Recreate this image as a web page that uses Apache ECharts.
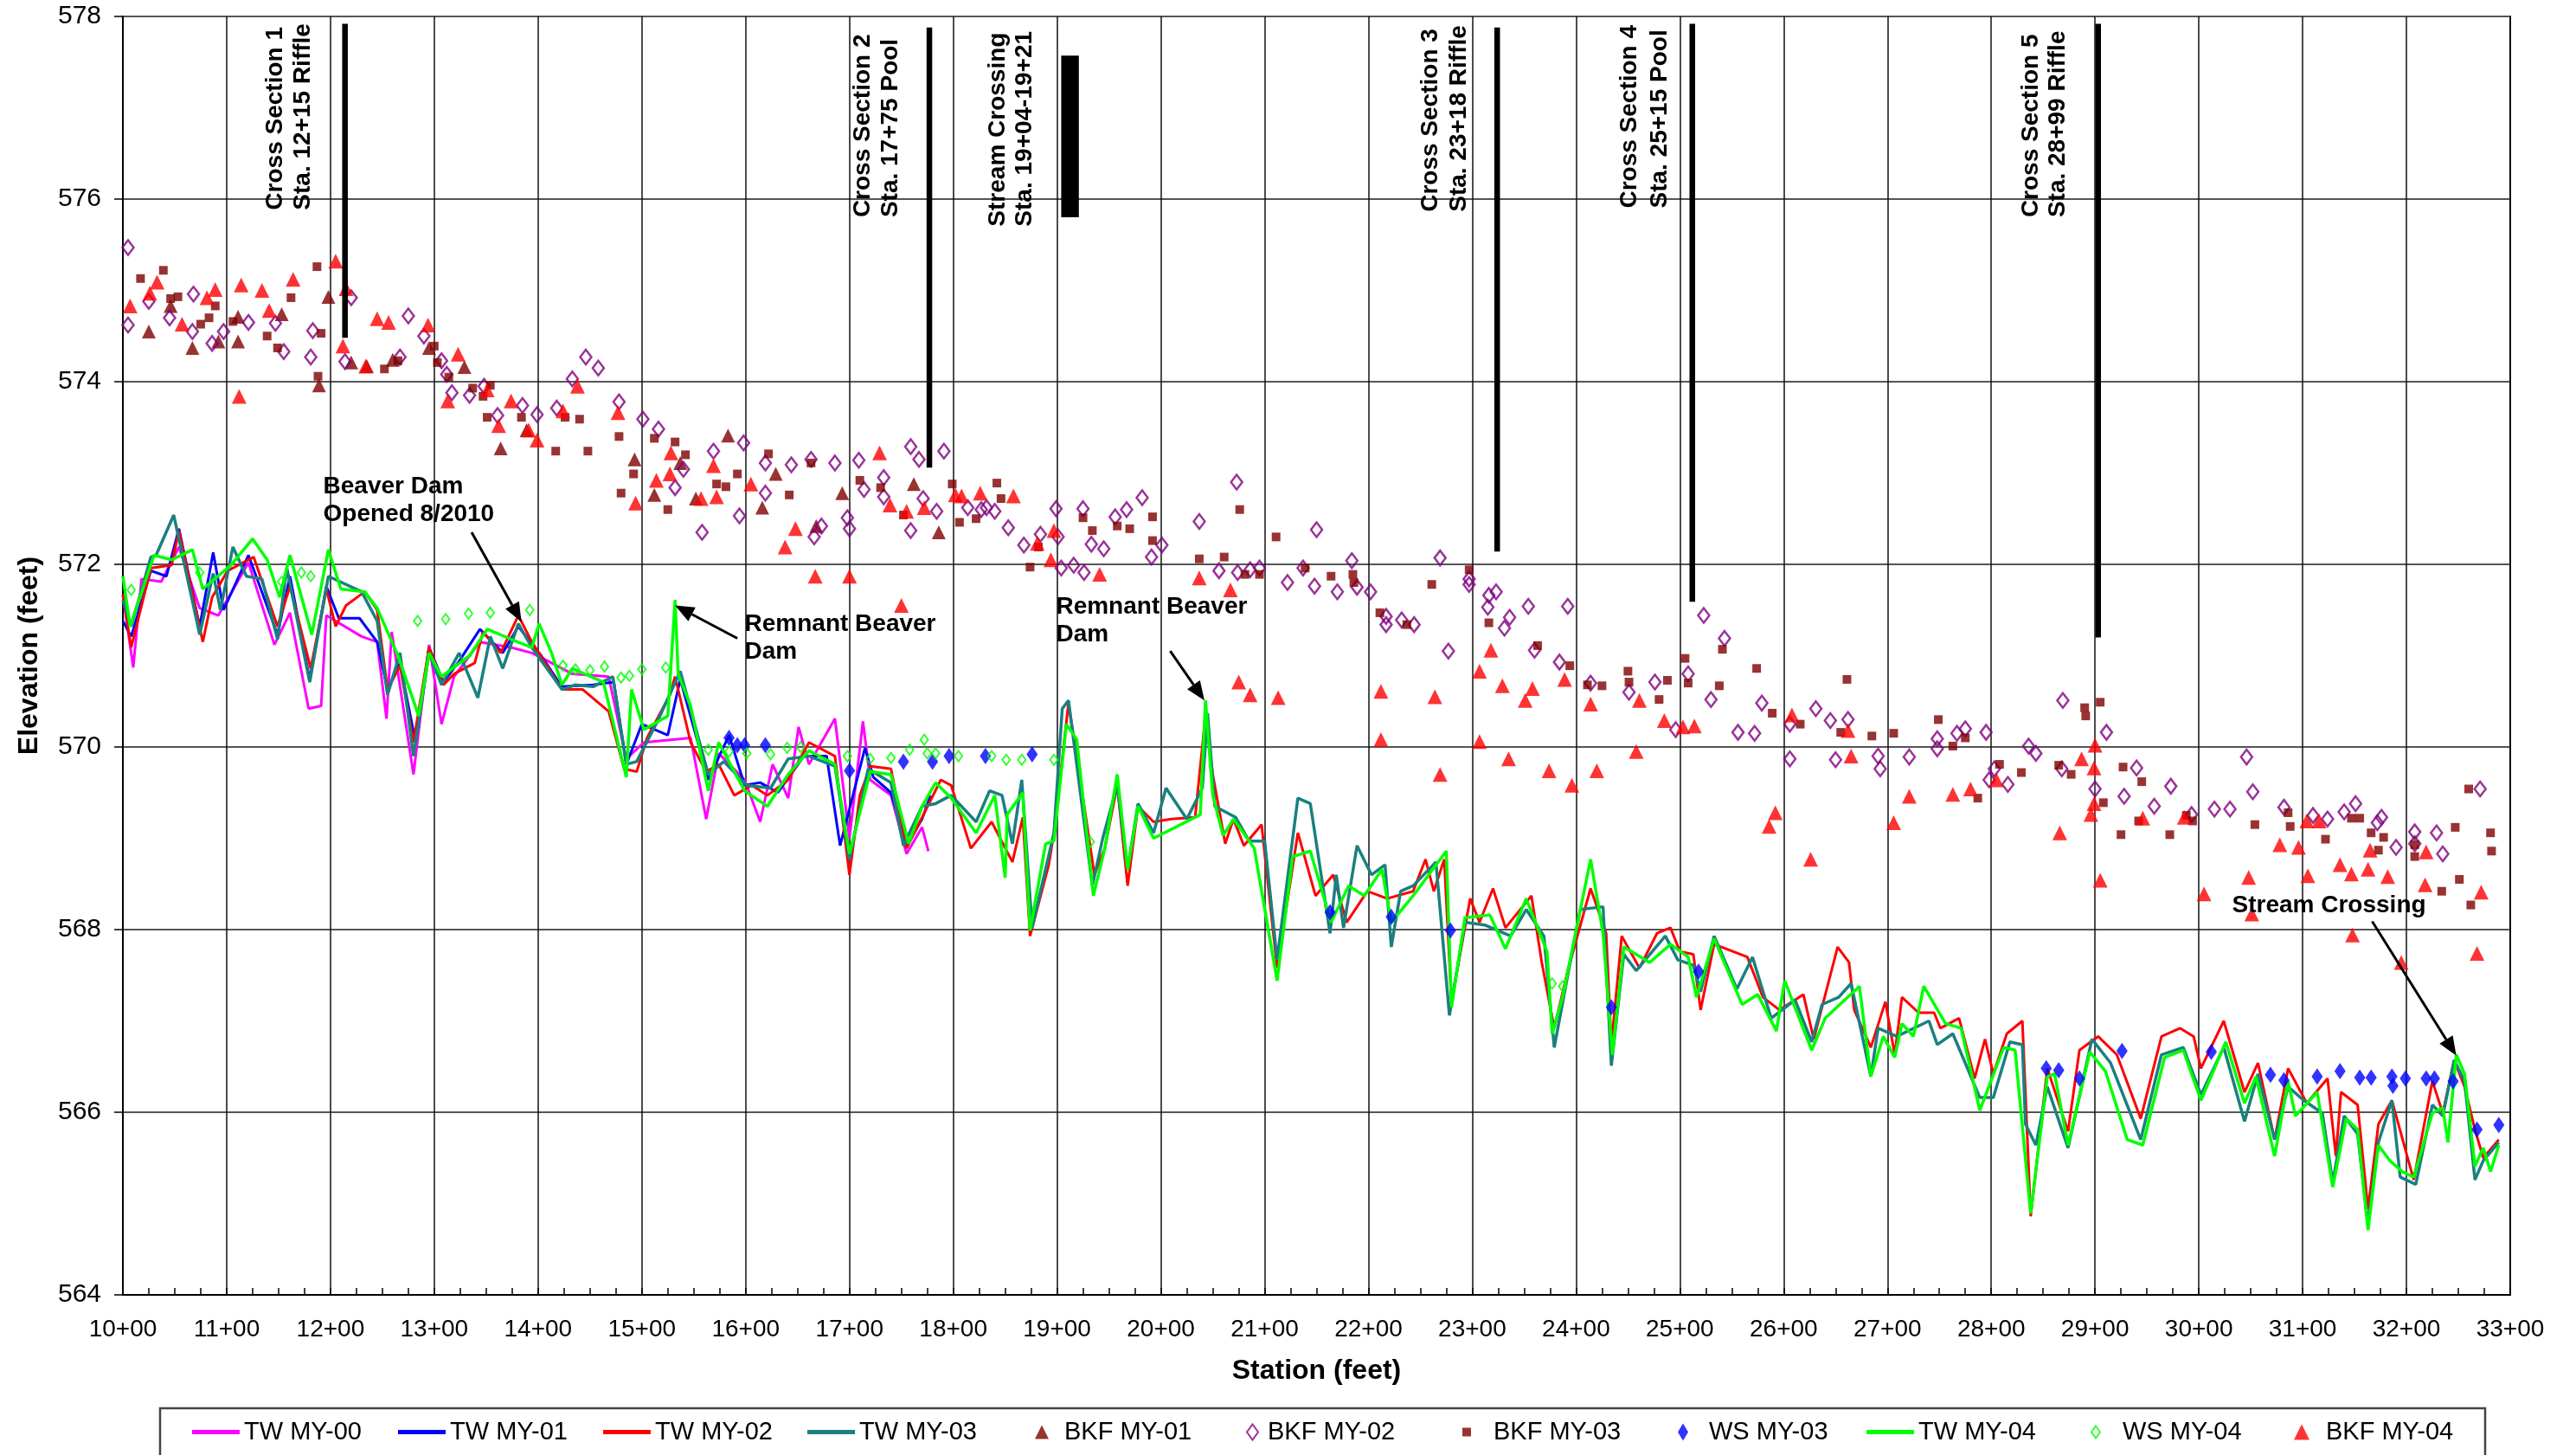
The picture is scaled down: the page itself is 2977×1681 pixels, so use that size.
<!DOCTYPE html>
<html><head><meta charset="utf-8">
<script src="https://cdn.jsdelivr.net/npm/echarts@6/dist/echarts.min.js"></script>
<style>html,body{margin:0;padding:0;background:#fff;}#c{width:2977px;height:1681px;}</style>
</head><body><div id="c"></div>
<script>
// ---------- DATA ----------
const xTickLabels = ['10+00','11+00','12+00','13+00','14+00','15+00','16+00','17+00','18+00','19+00','20+00','21+00','22+00','23+00','24+00','25+00','26+00','27+00','28+00','29+00','30+00','31+00','32+00','33+00'];
const yTickValues = [564,566,568,570,572,574,576,578];

const twMY00 = [[1000,571.67],[1010,570.87],[1018,571.84],[1037,571.81],[1054,572.19],[1074,571.52],[1092,571.44],[1121,572.02],[1146,571.12],[1161,571.47],[1179,570.42],[1191,570.45],[1196,571.44],[1230,571.21],[1245,571.15],[1254,570.31],[1259,571.26],[1280,569.70],[1295,571.12],[1307,570.25],[1319,570.77],[1344,571.15],[1374,571.09],[1394,571.03],[1413,570.92],[1433,570.80],[1468,570.77],[1485,569.87],[1502,570.05],[1547,570.10],[1562,569.21],[1574,569.93],[1599,569.64],[1614,569.18],[1626,569.81],[1641,569.44],[1651,570.22],[1661,569.81],[1686,570.31],[1700,569.00],[1713,570.28],[1720,569.64],[1740,569.47],[1755,568.83],[1770,569.12],[1776,568.86]];

const twMY01 = [[1000,571.38],[1008,571.21],[1027,571.93],[1042,571.87],[1054,572.39],[1074,571.32],[1087,572.13],[1097,571.50],[1121,572.10],[1149,571.23],[1161,571.87],[1180,570.74],[1196,571.76],[1208,571.41],[1228,571.41],[1245,571.15],[1255,570.63],[1267,570.92],[1282,570.05],[1295,571.09],[1309,570.71],[1324,570.94],[1344,571.29],[1366,571.03],[1381,571.32],[1403,571.00],[1423,570.66],[1453,570.68],[1473,570.71],[1485,569.81],[1500,570.25],[1525,570.13],[1537,570.74],[1564,569.64],[1584,570.13],[1599,569.58],[1614,569.61],[1631,569.50],[1656,569.90],[1678,569.90],[1691,568.92],[1715,569.99],[1723,569.67],[1740,569.50],[1755,568.92],[1770,569.21],[1778,569.47]];

const twMY02 = [[1000,571.67],[1008,571.09],[1027,571.96],[1047,571.99],[1054,572.37],[1077,571.15],[1086,571.64],[1101,571.93],[1126,572.08],[1149,571.32],[1161,571.76],[1181,570.86],[1196,571.73],[1205,571.32],[1215,571.55],[1233,571.70],[1245,571.50],[1255,570.63],[1267,570.89],[1280,570.05],[1295,571.09],[1309,570.68],[1319,570.80],[1339,570.92],[1347,571.26],[1364,571.03],[1381,571.44],[1394,571.15],[1423,570.63],[1443,570.63],[1468,570.39],[1483,569.76],[1495,569.73],[1505,570.10],[1527,570.57],[1532,570.77],[1547,570.05],[1562,569.73],[1574,569.81],[1589,569.47],[1606,569.58],[1621,569.47],[1641,569.64],[1661,570.05],[1686,569.90],[1700,568.60],[1710,569.47],[1720,569.79],[1740,569.76],[1755,568.89],[1770,569.23],
[1788,569.64],[1798,569.58],[1817,568.89],[1837,569.18],[1857,568.74],[1867,569.23],[1874,567.93],[1892,568.71],[1897,569.06],[1911,570.48],[1919,569.90],[1936,568.60],[1946,568.89],[1958,569.58],[1968,568.48],[1978,569.35],[1993,569.18],[2010,569.21],[2033,569.23],[2043,570.34],[2050,569.70],[2062,568.94],[2070,569.21],[2080,568.92],[2097,569.15],[2112,567.58],[2132,569.06],[2149,568.37],[2166,568.60],[2179,568.08],[2199,568.42],[2218,568.34],[2243,568.42],[2255,568.77],[2263,568.42],[2273,568.77],[2280,567.21],[2298,568.34],[2307,568.08],[2320,568.45],[2332,568.02],[2357,568.37],[2367,567.64],[2379,566.92],[2392,567.55],[2414,568.45],[2429,567.96],[2434,566.74],[2444,567.93],[2461,567.58],[2478,567.96],[2491,568.02],[2500,567.76],[2513,567.73],[2520,567.12],
[2533,567.84],[2565,567.70],[2580,567.26],[2596,567.12],[2619,567.29],[2629,566.80],[2652,567.81],[2663,567.64],[2668,567.12],[2684,566.71],[2698,567.21],[2707,566.63],[2714,567.26],[2730,567.09],[2745,567.09],[2751,566.92],[2769,567.03],[2784,566.37],[2794,566.80],[2802,566.42],[2815,566.86],[2830,567.00],[2838,564.86],[2854,566.48],[2874,565.79],[2885,566.68],[2903,566.83],[2921,566.63],[2944,565.93],[2964,566.83],[2982,566.92],[2995,566.83],[3002,566.48],[3024,567.00],[3044,566.22],[3057,566.54],[3073,565.70],[3086,566.48],[3104,566.10],[3124,566.37],[3132,565.52],[3137,566.22],[3153,566.08],[3163,564.94],[3173,565.87],[3186,566.13],[3207,565.26],[3225,566.34],[3235,565.99],[3246,566.57],[3256,566.28],[3266,565.81],[3274,565.50],[3289,565.70]];

const twMY03 = [[1000,571.61],[1008,571.32],[1027,572.08],[1032,572.10],[1049,572.54],[1074,571.23],[1087,571.90],[1094,571.50],[1106,572.19],[1119,571.87],[1134,571.84],[1149,571.18],[1158,571.96],[1180,570.71],[1198,571.87],[1230,571.70],[1245,571.38],[1255,570.57],[1267,571.03],[1280,569.90],[1295,571.03],[1307,570.68],[1324,571.03],[1342,570.54],[1354,571.21],[1366,570.86],[1381,571.35],[1394,571.09],[1423,570.63],[1436,570.68],[1453,570.66],[1472,570.77],[1485,569.81],[1495,569.84],[1515,570.28],[1537,570.83],[1564,569.70],[1579,569.84],[1601,569.58],[1624,569.55],[1641,569.87],[1661,569.90],[1686,569.79],[1700,568.77],[1718,569.76],[1740,569.61],[1752,568.92],[1770,569.35],
[1783,569.38],[1798,569.47],[1822,569.18],[1835,569.52],[1847,569.47],[1857,568.94],[1866,569.64],[1876,568.02],[1897,569.06],[1905,570.42],[1911,570.51],[1934,568.48],[1944,569.00],[1958,569.58],[1968,568.66],[1978,569.38],[1993,569.06],[2005,569.55],[2025,569.21],[2040,569.55],[2045,570.37],[2052,569.35],[2072,569.23],[2085,568.97],[2100,568.97],[2112,567.67],[2132,569.44],[2144,569.38],[2163,567.96],[2169,568.60],[2176,568.02],[2189,568.92],[2203,568.60],[2216,568.71],[2222,567.81],[2231,568.42],[2243,568.48],[2265,568.74],[2278,567.06],[2293,568.08],[2312,568.05],[2337,567.93],[2352,568.22],[2369,567.93],[2379,566.71],[2392,567.50],[2404,568.22],[2426,568.25],[2434,566.51],[2446,567.73],[2458,567.55],[2486,567.93],[2498,567.67],[2513,567.61],[2520,567.32],
[2533,567.93],[2555,567.35],[2570,567.70],[2588,567.03],[2611,567.23],[2627,566.77],[2637,567.18],[2653,567.26],[2665,567.41],[2684,566.39],[2691,566.92],[2709,566.83],[2740,567.00],[2748,566.74],[2763,566.86],[2789,566.16],[2802,566.16],[2818,566.77],[2830,566.74],[2833,565.87],[2843,565.64],[2854,566.28],[2874,565.61],[2897,566.80],[2915,566.54],[2944,565.70],[2964,566.63],[2985,566.71],[3002,566.19],[3024,566.71],[3044,565.90],[3057,566.42],[3073,565.70],[3086,566.28],[3101,566.13],[3119,565.99],[3129,565.23],[3140,565.96],[3153,565.76],[3163,564.77],[3173,565.67],[3186,566.13],[3194,565.29],[3209,565.21],[3225,566.08],[3235,565.96],[3246,566.57],[3256,566.34],[3266,565.26],[3274,565.47],[3289,565.67]];

const twMY04 = [[1000,571.87],[1007,571.32],[1030,572.10],[1047,572.05],[1067,572.16],[1077,571.73],[1104,571.99],[1125,572.28],[1139,572.05],[1151,571.64],[1161,572.10],[1182,571.23],[1198,572.16],[1210,571.73],[1233,571.70],[1245,571.52],[1265,571.00],[1285,570.34],[1295,571.03],[1307,570.77],[1334,571.00],[1351,571.29],[1374,571.18],[1394,571.09],[1401,571.35],[1413,571.03],[1423,570.68],[1433,570.86],[1463,570.71],[1485,569.67],[1490,570.63],[1502,570.19],[1525,570.34],[1532,571.61],[1535,570.80],[1547,570.45],[1564,569.52],[1574,570.05],[1599,569.52],[1621,569.35],[1641,569.70],[1661,569.96],[1686,569.81],[1700,568.83],[1720,569.73],[1740,569.70],[1757,568.94],[1770,569.35],
[1783,569.61],[1798,569.44],[1822,569.06],[1840,569.47],[1850,568.57],[1852,569.26],[1867,569.50],[1874,567.99],[1889,568.94],[1897,568.97],[1909,570.25],[1919,570.08],[1935,568.37],[1946,568.89],[1958,569.70],[1968,568.66],[1978,569.35],[1993,569.00],[2038,569.26],[2043,570.51],[2050,569.47],[2060,569.03],[2070,569.21],[2090,568.89],[2112,567.44],[2127,568.80],[2144,568.86],[2164,568.08],[2181,568.48],[2196,568.37],[2213,568.66],[2222,568.08],[2243,568.37],[2275,568.86],[2280,567.15],[2293,568.13],[2317,568.16],[2332,567.79],[2352,568.34],[2372,567.76],[2377,566.86],[2387,567.26],[2414,568.77],[2426,567.96],[2435,566.63],[2446,567.81],[2471,567.64],[2491,567.84],
[2508,567.70],[2516,567.26],[2533,567.90],[2560,567.18],[2575,567.29],[2593,566.89],[2601,567.44],[2627,566.68],[2640,567.03],[2673,567.38],[2684,566.39],[2696,566.83],[2707,566.60],[2714,566.97],[2725,566.83],[2735,567.38],[2756,566.97],[2771,566.92],[2789,566.02],[2812,566.71],[2823,566.68],[2838,564.89],[2854,566.39],[2861,566.42],[2874,565.64],[2895,566.66],[2910,566.45],[2931,565.70],[2946,565.64],[2967,566.60],[2985,566.68],[3002,566.13],[3026,566.77],[3044,566.10],[3055,566.39],[3073,565.52],[3086,566.34],[3093,565.96],[3114,566.22],[3129,565.18],[3142,565.93],[3153,565.81],[3163,564.71],[3173,565.64],[3184,565.47],[3196,565.35],[3207,565.29],[3225,565.99],[3235,566.05],[3240,565.67],[3248,566.63],[3256,566.42],[3266,565.41],[3274,565.61],[3281,565.35],[3289,565.64]];

const bkfMY01 = [[1025,574.55],[1046,574.83],[1067,574.37],[1092,574.44],[1111,574.71],[1111,574.44],[1153,574.74],[1189,573.96],[1198,574.93],[1220,574.21],[1235,574.17],[1260,574.24],[1295,574.37],[1329,574.16],[1364,573.27],[1389,573.47],[1493,573.15],[1512,572.76],[1537,573.11],[1552,572.72],[1583,573.41],[1616,572.62],[1629,572.99],[1668,572.42],[1693,572.78],[1762,572.88],[1786,572.35]];

const bkfMY02 = [[1005,575.47],[1005,574.62],[1025,574.88],[1045,574.70],[1068,574.96],[1067,574.55],[1086,574.42],[1097,574.55],[1121,574.65],[1147,574.64],[1155,574.33],[1181,574.27],[1183,574.56],[1220,574.92],[1214,574.22],[1267,574.27],[1275,574.72],[1290,574.50],[1307,574.23],[1312,574.08],[1317,573.88],[1334,573.85],[1348,573.95],[1361,573.63],[1385,573.74],[1399,573.64],[1418,573.71],[1433,574.03],[1446,574.27],[1458,574.15],[1478,573.78],[1501,573.59],[1516,573.48],[1532,572.84],[1540,573.04],[1558,572.35],[1569,573.24],[1594,572.53],[1598,573.33],[1619,573.11],[1619,572.78],[1644,573.09],[1663,573.15],[1666,572.30],[1673,572.42],[1686,573.11],[1698,572.51],[1700,572.39],[1709,573.14],[1714,572.82],[1733,572.95],[1733,572.74],[1759,573.29],[1759,572.37],[1767,573.15],
[1771,572.72],[1784,572.58],[1791,573.24],[1814,572.62],[1827,572.60],[1832,572.62],[1840,572.58],[1853,572.40],[1868,572.21],[1884,572.33],[1899,572.61],[1901,572.30],[1904,571.96],[1916,571.99],[1926,571.91],[1925,572.61],[1933,572.22],[1945,572.17],[1956,572.52],[1967,572.60],[1982,572.73],[1991,572.08],[2001,572.21],[2037,572.47],[2056,571.93],[2073,572.90],[2074,571.91],[2086,571.94],[2095,571.96],[2122,571.80],[2137,571.96],[2148,571.76],[2150,572.38],[2170,571.70],[2184,572.04],[2189,571.75],[2202,571.70],[2217,571.43],[2217,571.34],[2232,571.39],[2244,571.34],[2269,572.07],[2277,571.05],[2297,571.84],[2297,571.78],[2316,571.66],[2323,571.70],[2315,571.53],[2336,571.42],[2331,571.30],[2354,571.54],[2360,571.06],[2392,571.54],[2384,570.93],[2414,570.70],[2451,570.60],[2476,570.71],[2496,570.19],[2508,570.80],[2523,571.44],
[2543,571.19],[2530,570.52],[2556,570.16],[2572,570.15],[2579,570.48],[2606,570.25],[2606,569.87],[2631,570.42],[2645,570.29],[2650,569.86],[2662,570.30],[2691,569.90],[2693,569.76],[2721,569.89],[2748,570.09],[2748,569.98],[2767,570.15],[2775,570.20],[2795,570.16],[2798,569.64],[2803,569.76],[2816,569.59],[2836,570.01],[2843,569.93],[2869,570.51],[2868,569.76],[2900,569.54],[2911,570.16],[2928,569.46],[2940,569.77],[2957,569.35],[2973,569.57],[2993,569.26],[3015,569.32],[3030,569.32],[3046,569.89],[3052,569.51],[3082,569.34],[3110,569.25],[3124,569.21],[3140,569.29],[3151,569.38],[3172,569.17],[3176,569.23],[3190,568.90],[3208,569.07],[3208,568.94],[3229,569.06],[3235,568.83],[3271,569.54]];

const bkfMY03 = [[1017,575.13],[1039,575.22],[1046,574.91],[1053,574.93],[1075,574.63],[1083,574.70],[1089,574.83],[1106,574.66],[1139,574.50],[1149,574.37],[1162,574.92],[1187,575.26],[1191,574.53],[1188,574.06],[1252,574.14],[1265,574.23],[1300,574.39],[1303,574.21],[1314,574.05],[1337,573.93],[1347,573.84],[1354,573.96],[1351,573.61],[1384,573.61],[1417,573.24],[1426,573.61],[1440,573.59],[1448,573.24],[1478,573.40],[1492,572.99],[1480,572.78],[1512,573.38],[1525,572.60],[1532,573.34],[1542,573.20],[1572,572.88],[1581,572.85],[1592,572.99],[1622,573.21],[1642,572.76],[1663,573.11],[1710,572.92],[1730,572.84],[1752,572.54],
[1799,572.88],[1806,572.46],[1822,572.50],[1842,572.89],[1846,572.72],[1874,571.97],[1882,572.19],[1925,572.51],[1934,572.37],[1958,572.42],[1970,572.39],[1992,572.52],[1992,572.26],[2037,572.06],[2061,572.08],[2076,572.60],[2081,571.89],[2095,571.89],[2111,572.30],[2139,571.96],[2164,571.87],[2185,571.89],[2186,571.80],[2211,571.47],[2237,571.34],[2261,571.78],[2297,571.94],[2316,571.36],[2363,571.11],[2394,570.89],[2411,570.68],[2425,570.67],[2450,570.83],[2451,570.71],[2480,570.52],[2488,570.73],[2505,570.97],[2508,570.70],
[2541,571.07],[2538,570.67],[2574,570.86],[2589,570.37],[2616,570.25],[2655,570.16],[2661,570.74],[2685,570.12],[2706,570.15],[2749,570.30],[2763,570.01],[2775,570.10],[2787,569.44],[2808,569.81],[2829,569.72],[2865,569.80],[2877,569.70],[2890,570.43],[2891,570.34],[2905,570.49],[2908,569.39],[2927,569.78],[2925,569.04],[2945,569.62],[2942,569.19],[2972,569.04],[2988,569.25],[2994,569.19],[3054,569.15],[3088,569.13],[3086,569.28],[3122,568.99],[3147,569.22],[3155,569.22],[3166,569.06],[3173,568.87],[3178,569.01],[3208,568.80],[3208,568.93],[3234,568.42],[3247,569.12],[3251,568.55],[3260,569.54],[3262,568.27],[3281,569.06],[3282,568.86]];

const wsMY03 = [[1584,570.10],[1592,570.02],[1599,570.02],[1619,570.02],[1700,569.74],[1752,569.84],[1780,569.84],[1796,569.90],[1831,569.90],[1876,569.92],[2163,568.19],[2222,568.14],[2279,567.99],[2434,567.15],[2518,567.54],[2853,566.48],[2865,566.46],[2885,566.37],[2926,566.67],[3012,566.66],[3069,566.41],[3082,566.35],[3114,566.39],[3136,566.45],[3155,566.38],[3166,566.38],[3186,566.39],[3187,566.29],[3199,566.37],[3219,566.37],[3227,566.37],[3245,566.34],[3268,565.81],[3289,565.86]];

const wsMY04 = [[1008,571.72],[1074,571.91],[1153,571.81],[1172,571.91],[1181,571.87],[1284,571.38],[1311,571.40],[1333,571.46],[1354,571.47],[1392,571.50],[1424,570.89],[1436,570.85],[1450,570.84],[1464,570.88],[1480,570.76],[1488,570.78],[1500,570.85],[1523,570.87],[1564,569.97],[1584,569.95],[1601,569.93],[1624,569.92],[1640,569.99],[1653,570.00],[1698,569.90],[1720,569.87],[1740,569.88],[1758,569.97],[1772,570.08],[1775,569.93],[1783,569.93],[1805,569.90],[1837,569.90],[1851,569.86],[1866,569.86],[1897,569.86],[1932,568.96],[2377,567.41],[2387,567.38]];

const bkfMY04 = [[1007,574.83],[1026,574.97],[1033,575.09],[1057,574.63],[1081,574.92],[1089,575.01],[1112,573.84],[1114,575.06],[1134,575.00],[1141,574.78],[1164,575.12],[1205,575.32],[1215,575.02],[1212,574.39],[1234,574.17],[1245,574.69],[1256,574.65],[1294,574.62],[1313,573.79],[1323,574.30],[1351,573.91],[1362,573.52],[1374,573.79],[1391,573.47],[1399,573.36],[1424,573.68],[1438,573.95],[1477,573.66],[1494,572.67],[1514,572.92],[1527,572.99],[1528,573.22],[1557,572.72],[1569,573.08],[1572,572.74],[1605,572.88],[1638,572.19],[1648,572.39],[1667,571.87],[1700,571.87],[1729,573.22],[1739,572.65],[1750,571.55],[1755,572.58],[1772,572.62],
[1802,572.76],[1808,572.75],[1826,572.78],[1858,572.75],[1881,572.23],[1897,572.37],[1894,572.05],[1941,571.89],[2037,571.85],[2067,571.72],[2075,570.71],[2086,570.57],[2113,570.54],[2212,570.61],[2212,570.08],[2264,570.55],[2269,569.70],[2307,570.83],[2307,570.06],[2318,571.06],[2329,570.67],[2335,569.87],[2351,570.51],[2358,570.64],[2374,569.74],[2389,570.74],[2396,569.58],[2414,570.47],[2420,569.74],[2458,569.95],[2461,570.51],[2485,570.29],[2503,570.22],[2514,570.23],
[2586,569.13],[2592,569.28],[2608,570.35],[2626,568.77],[2662,570.18],[2665,569.90],[2706,569.17],[2721,569.46],[2763,569.48],[2780,569.54],[2805,569.64],[2866,569.06],[2887,569.87],[2900,570.02],[2899,569.77],[2899,569.38],[2896,569.26],[2905,568.54],[2946,569.22],[2986,569.23],[3005,568.39],[3048,568.57],[3051,568.17],[3078,568.93],[3096,568.90],[3104,569.19],[3105,568.59],[3116,569.19],[3136,568.71],[3148,567.94],[3147,568.61],[3163,568.66],[3165,568.87],[3182,568.58],[3195,567.64],[3218,568.49],[3219,568.85],[3268,567.74],[3272,568.41]];

// annotations (station, elevation)
const sectionLabels = [['Cross Section 1','Sta. 12+15 Riffle'],['Cross Section 2','Sta. 17+75 Pool'],['Stream Crossing','Sta. 19+04-19+21'],['Cross Section 3','Sta. 23+18 Riffle'],['Cross Section 4','Sta. 25+15 Pool'],['Cross Section 5','Sta. 28+99 Riffle']];
const sectionTextStations = [[1147,1174],[1713,1740],[1843,1869],[2260,2287],[2452,2481],[2838,2864]];
const sectionTextBase = [575.88,575.80,575.70,575.86,575.90,575.80];
const sectionBars = [[1214,574.48,577.92],[1777,573.06,577.88],[2324,572.14,577.88],[2512,571.59,577.92],[2903,571.20,577.92]];
const crossingBox = [1904,1921,575.80,577.57];
const noteTexts = [['Beaver Dam','Opened 8/2010'],['Remnant Beaver','Dam'],['Remnant Beaver','Dam'],['Stream Crossing']];
const noteAnchors = [[1193,572.85],[1599,571.34],[1899,571.53],[3032,568.26]];
const arrows = [[[1336,572.35],[1384,571.37]],[[1592,571.19],[1532,571.55]],[[2009,571.05],[2042,570.51]],[[3167,568.09],[3248,566.62]]];

// ---------- CHART ----------
const FONT = '"Liberation Sans", Arial, Helvetica, sans-serif';
const chart = echarts.init(document.getElementById('c'), null, {width:2977, height:1681});

function lineSeries(name, data, color, w){
  return {name, type:'line', data, showSymbol:false, symbol:'none', lineStyle:{color, width:w}, itemStyle:{color}, animation:false, z:2};
}
function scatterSeries(name, data, symbol, size, fill, border, bw){
  return {name, type:'scatter', data, symbol, symbolSize:size,
    itemStyle:{color:fill, borderColor:border, borderWidth:bw}, animation:false, z:3};
}

const series = [
  lineSeries('TW MY-00', twMY00, '#FF00FF', 3),
  lineSeries('TW MY-01', twMY01, '#0000FF', 3),
  lineSeries('TW MY-02', twMY02, '#FF0000', 3),
  lineSeries('TW MY-03', twMY03, '#1A8080', 3.5),
  scatterSeries('BKF MY-01', bkfMY01, 'triangle', 16, '#800000', '#800000', 0),
  scatterSeries('BKF MY-02', bkfMY02, 'diamond', [13,17], 'rgba(255,255,255,0)', '#800080', 2.5),
  scatterSeries('BKF MY-03', bkfMY03, 'rect', 10, '#800000', '#800000', 0),
  scatterSeries('WS MY-03', wsMY03, 'diamond', [13,19], '#0000FF', '#0000FF', 0),
  lineSeries('TW MY-04', twMY04, '#00FF00', 3.5),
  scatterSeries('WS MY-04', wsMY04, 'diamond', [9,12], 'rgba(255,255,255,0)', '#00FF00', 2),
  scatterSeries('BKF MY-04', bkfMY04, 'triangle', 17, '#FF0000', '#FF0000', 0)
];

const legendSpec = [
  {name:'TW MY-00', left:222, w:55, h:5, pad:0, icon:'rect'},
  {name:'TW MY-01', left:460, w:55, h:5, pad:0, icon:'rect'},
  {name:'TW MY-02', left:697, w:55, h:5, pad:0, icon:'rect'},
  {name:'TW MY-03', left:933, w:55, h:5, pad:0, icon:'rect'},
  {name:'BKF MY-01', left:1196, w:16, h:16, pad:13},
  {name:'BKF MY-02', left:1440, w:13, h:18, pad:6},
  {name:'BKF MY-03', left:1690, w:10, h:10, pad:21},
  {name:'WS MY-03', left:1939, w:12, h:20, pad:19},
  {name:'TW MY-04', left:2157, w:55, h:5, pad:0, icon:'rect'},
  {name:'WS MY-04', left:2416, w:10, h:14, pad:21},
  {name:'BKF MY-04', left:2651, w:18, h:18, pad:14}
];

const legends = legendSpec.map(l => ({
  data:[l.icon ? {name:l.name, icon:l.icon} : {name:l.name}],
  left:l.left, top:1640, padding:0, itemWidth:l.w, itemHeight:l.h, selectedMode:false,
  textStyle:{fontSize:29, color:'#000', fontFamily:FONT, padding:[0,0,0,l.pad]}
}));

chart.setOption({
  animation:false,
  backgroundColor:'#ffffff',
  textStyle:{fontFamily:FONT},
  grid:{left:142, right:76, top:19, bottom:185, show:true, borderColor:'#000', borderWidth:2, containLabel:false},
  xAxis:{
    type:'value', min:1000, max:3300, interval:100,
    name:'Station (feet)', nameLocation:'middle', nameGap:72,
    nameTextStyle:{fontSize:32, fontWeight:'bold', color:'#000', fontFamily:FONT},
    axisLine:{show:true, lineStyle:{color:'#000', width:2}},
    axisTick:{show:true, inside:true, length:8, lineStyle:{color:'#000', width:1.5}},
    minorTick:{show:true, splitNumber:4, length:8, lineStyle:{color:'#000', width:1.5}},
    axisLabel:{fontSize:28, color:'#000', margin:26, fontFamily:FONT,
      formatter:v => xTickLabels[Math.round((v-1000)/100)]},
    splitLine:{show:true, lineStyle:{color:'#111', width:1.5}}
  },
  yAxis:{
    type:'value', min:564, max:578, interval:2,
    name:'Elevation (feet)', nameLocation:'middle', nameGap:92, nameRotate:90,
    nameTextStyle:{fontSize:32, fontWeight:'bold', color:'#000', fontFamily:FONT},
    axisLine:{show:true, lineStyle:{color:'#000', width:2}},
    axisTick:{show:true, inside:false, length:10, lineStyle:{color:'#000', width:1.5}},
    axisLabel:{fontSize:30, color:'#000', margin:25, fontFamily:FONT,
      formatter:v => (yTickValues.indexOf(v) >= 0 ? String(v) : '')},
    splitLine:{show:true, lineStyle:{color:'#555', width:2}}
  },
  legend:legends,
  series
});

// ---------- ANNOTATIONS ----------
function px(s, e){ return chart.convertToPixel({gridIndex:0}, [s, e]); }
const g = [];
g.push({type:'rect', z:0, shape:{x:185, y:1627, width:2687, height:70}, style:{fill:'#fff', stroke:'#444', lineWidth:2.5}});
sectionBars.forEach(b => {
  const p1 = px(b[0], b[2]), p2 = px(b[0], b[1]);
  g.push({type:'line', z:50, shape:{x1:p1[0], y1:p1[1], x2:p2[0], y2:p2[1]}, style:{stroke:'#000', lineWidth:6.5}});
});
{
  const a = px(crossingBox[0], crossingBox[3]), b = px(crossingBox[1], crossingBox[2]);
  g.push({type:'rect', z:50, shape:{x:a[0], y:a[1], width:b[0]-a[0], height:b[1]-a[1]}, style:{fill:'#000'}});
}
sectionLabels.forEach((lines, i) => {
  lines.forEach((t, j) => {
    const p = px(sectionTextStations[i][j], sectionTextBase[i]);
    g.push({type:'text', z:50, x:p[0], y:p[1], rotation:Math.PI/2,
      style:{text:t, fill:'#000', font:'bold 28px ' + FONT, textAlign:'left', textVerticalAlign:'middle'}});
  });
});
noteTexts.forEach((lines, i) => {
  const p = px(noteAnchors[i][0], noteAnchors[i][1]);
  g.push({type:'text', z:50, x:p[0], y:p[1]-16,
    style:{text:lines.join('\n'), fill:'#000', font:'bold 28px ' + FONT, lineHeight:32, textAlign:'left', textVerticalAlign:'top'}});
});
arrows.forEach(a => {
  const p1 = px(a[0][0], a[0][1]), p2 = px(a[1][0], a[1][1]);
  const dx = p2[0]-p1[0], dy = p2[1]-p1[1], L = Math.sqrt(dx*dx+dy*dy);
  const ux = dx/L, uy = dy/L, hl = 22, hw = 9;
  const bx = p2[0]-ux*hl, by = p2[1]-uy*hl;
  g.push({type:'line', z:50, shape:{x1:p1[0], y1:p1[1], x2:bx, y2:by}, style:{stroke:'#000', lineWidth:3}});
  g.push({type:'polygon', z:50, shape:{points:[[p2[0],p2[1]],[bx-uy*hw, by+ux*hw],[bx+uy*hw, by-ux*hw]]}, style:{fill:'#000'}});
});
chart.setOption({graphic:g});
</script>
</body></html>
